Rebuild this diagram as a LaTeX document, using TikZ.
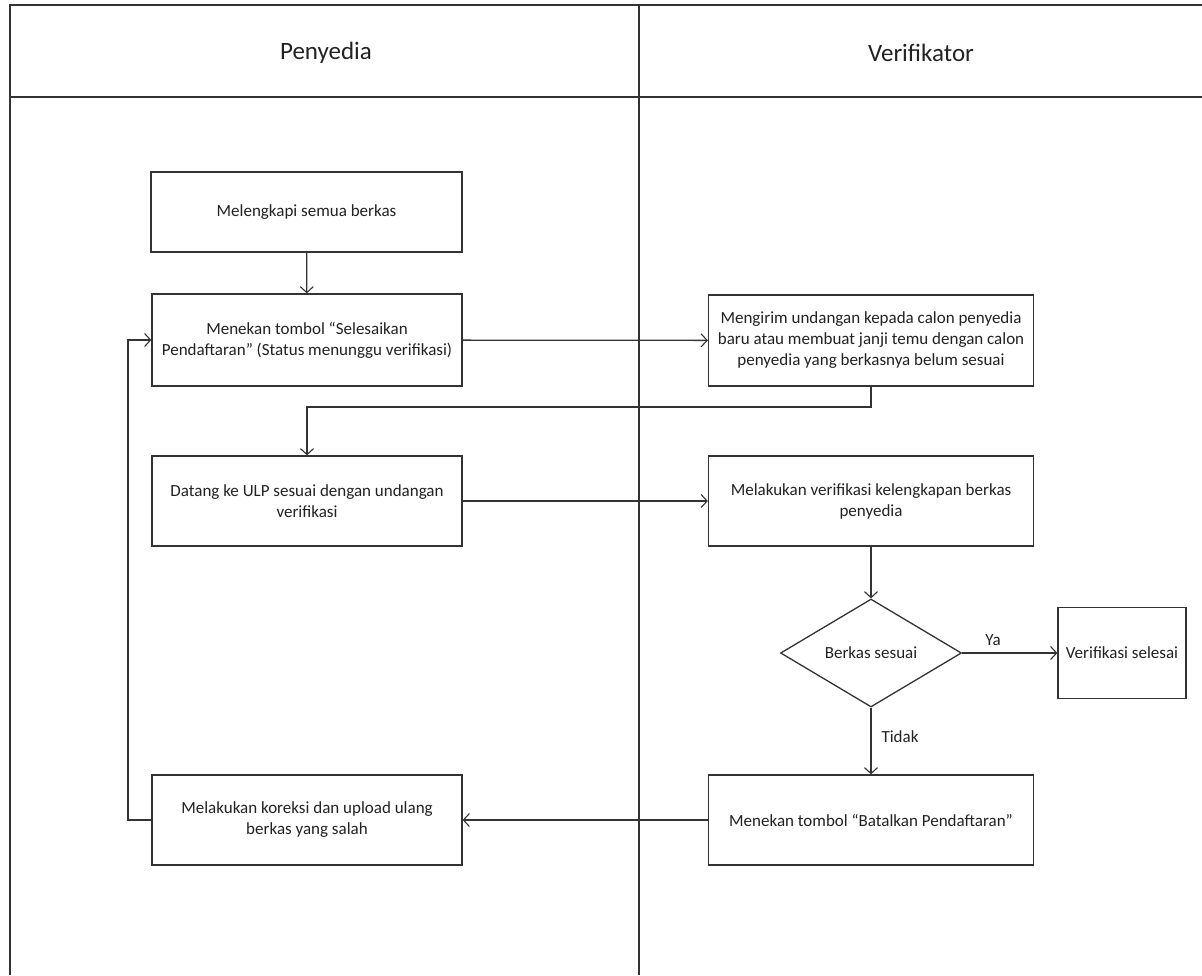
\documentclass[tikz,border=0pt]{standalone}
\usepackage{fontspec}
\setmainfont{Carlito}
\usetikzlibrary{shapes.geometric,arrows.meta,positioning}
\definecolor{ln}{HTML}{333333}
\definecolor{tx}{HTML}{222222}
\begin{document}
\begin{tikzpicture}[x=1pt,y=-1pt,
  lane/.style={draw=ln,line width=1.4pt},
  proc/.style={draw=ln,line width=1.3pt,rectangle,align=center,inner sep=0pt,
     text=tx,font=\fontsize{17}{21}\selectfont},
  dec/.style={draw=ln,line width=1.3pt,diamond,aspect=1.676,inner sep=0pt,
     minimum width=181pt,minimum height=108pt,text=tx,font=\fontsize{17}{21}\selectfont},
  flow/.style={draw=ln,line width=1.3pt,-{Straight Barb[length=6pt,width=13pt,line width=1.1pt]}},
  lbl/.style={text=tx,font=\fontsize{17}{21}\selectfont,inner sep=0pt},
  head/.style={text=tx,font=\fontsize{25}{30}\selectfont,inner sep=0pt}]
\useasboundingbox (0,0) rectangle (1202,975);
\fill[white] (0,0) rectangle (1202,975);
% swimlanes
\draw[lane] (1202,5) -- (10,5) -- (10,975);
\draw[lane] (10,97) -- (1202,97);
\draw[lane] (639,5) -- (639,975);
\node[head] (hp) at (326,53) {Penyedia};
\node[head] (hv) at (921,53) {Verifikator};
% nodes
\node[proc,minimum width=311pt,minimum height=80pt] (b1) at (306.5,212) {Melengkapi semua berkas};
\node[proc,minimum width=310pt,minimum height=92pt] (b2) at (307,340) {Menekan tombol “Selesaikan\\Pendaftaran” (Status menunggu verifikasi)};
\node[proc,minimum width=325pt,minimum height=91pt] (b3) at (871,340.5) {Mengirim undangan kepada calon penyedia\\baru atau membuat janji temu dengan calon\\penyedia yang berkasnya belum sesuai};
\node[proc,minimum width=310pt,minimum height=90pt] (b4) at (307,501) {Datang ke ULP sesuai dengan undangan\\verifikasi};
\node[proc,minimum width=325pt,minimum height=90pt] (b5) at (871,501) {Melakukan verifikasi kelengkapan berkas\\penyedia};
\node[dec] (d) at (871,653) {Berkas sesuai};
\node[proc,minimum width=128pt,minimum height=91pt] (b8) at (1122,653) {Verifikasi selesai};
\node[proc,minimum width=325pt,minimum height=90pt] (b6) at (871,820) {Menekan tombol “Batalkan Pendaftaran”};
\node[proc,minimum width=310pt,minimum height=90pt] (b7) at (307,820) {Melakukan koreksi dan upload ulang\\berkas yang salah};
\coordinate (t1) at (871,407);
\coordinate (t2) at (307,407);
\coordinate (l1) at (128,820);
\coordinate (l2) at (128,340);
% connectors
\draw[flow] (b1) -- (b2);
\draw[flow] (b2) -- (b3);
\draw[flow] (b3.south) -- (t1) -- (t2) -- (b4.north);
\draw[flow] (b4) -- (b5);
\draw[flow] (b5) -- (d);
\draw[flow] (d.east) -- (b8.west);
\draw[flow] (d.south) -- (b6.north);
\draw[flow] (b6) -- (b7);
\draw[flow] (b7.west) -- (l1) -- (l2) -- (b2.west);
\node[lbl] (ya) at (993,640) {Ya};
\node[lbl] (tidak) at (900,737) {Tidak};
\end{tikzpicture}
\end{document}
